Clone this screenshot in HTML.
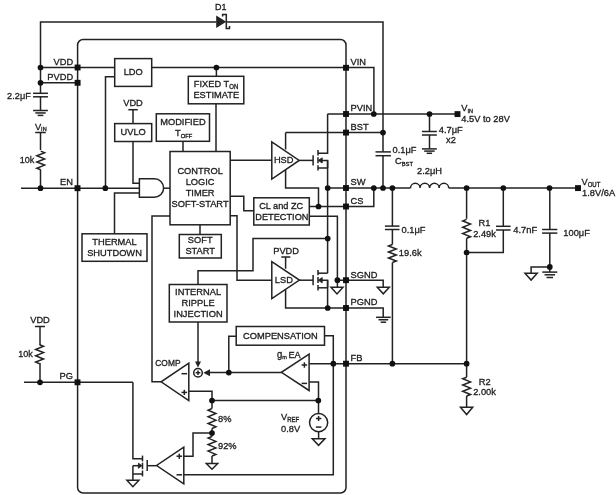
<!DOCTYPE html>
<html><head><meta charset="utf-8"><style>
html,body{margin:0;padding:0;background:#fff;width:616px;height:495px;overflow:hidden}
svg{display:block;filter:grayscale(1)}
text{font-family:"Liberation Sans",sans-serif;fill:#1c1c1c;stroke:#1c1c1c;stroke-width:0.3}
</style></head><body>
<svg width="616" height="495" viewBox="0 0 616 495">
<rect width="616" height="495" fill="#fff"/>
<g fill="none" stroke="#222" stroke-width="1.5" stroke-linejoin="miter" stroke-linecap="butt">
<path d="M40.5,67.5 L40.5,22 L216.3,22"/>
<path d="M226.3,22 L383,22 L383,151.9"/>
<path d="M216.2,15.6 L216.2,27.9 L226.3,21.8Z" fill="#222" stroke="none"/>
<path d="M222.6,16.5 L222.6,14.6 L226.3,14.6 L226.3,28.4 L229.5,28.4 L229.5,26"/>
<rect x="77.6" y="39.5" width="268.4" height="453.5" rx="5.5"/>
<path d="M40.5,67.5 L114.7,67.5"/>
<path d="M151.7,67.6 L373.9,67.6 L373.9,114"/>
<path d="M216.4,67.5 L216.4,76.3"/>
<path d="M40.5,82.8 L77.5,82.8"/>
<path d="M40.5,67.5 L40.5,93.3"/>
<path d="M33.05,93.3 L47.95,93.3"/>
<path d="M33.05,96.8 L47.95,96.8"/>
<path d="M40.5,96.8 L40.5,110.5"/>
<path d="M33.1,110.5 L47.9,110.5"/>
<path d="M35.3,112.95 L45.7,112.95"/>
<path d="M37.65,115.4 L43.35,115.4"/>
<path d="M35.2,132.5 L45.8,132.5"/>
<path d="M40.5,132.5 L40.5,150"/>
<path d="M40.7,151.1 L44.6,152.66 L36.800000000000004,155.78 L44.6,158.89 L36.800000000000004,162.01 L44.6,165.12 L36.800000000000004,168.24 L40.7,169.8"/>
<path d="M40.5,169.5 L40.5,188.2"/>
<path d="M21,188.2 L139.4,188.2"/>
<rect x="114.7" y="58.6" width="36.999999999999986" height="27.800000000000004"/>
<path d="M114.7,76.7 L105.5,76.7 L105.5,188.2"/>
<path d="M128.3,109.7 L137.8,109.7"/>
<path d="M133,109.7 L133,123.6"/>
<rect x="114.7" y="123.6" width="36.999999999999986" height="17.900000000000006"/>
<path d="M133,141.5 L133,183.2 L139.4,183.2"/>
<path d="M139.4,178.8 L154.5,178.8 A9.1,9.25 0 0 1 154.5,197.3 L139.4,197.3Z"/>
<path d="M163.6,188.2 L170,188.2"/>
<path d="M139.4,193.1 L114.5,193.1 L114.5,233.8"/>
<rect x="82" y="233.8" width="65" height="27.5"/>
<path d="M170,216.1 L152,216.1 L152,381.8 L161.1,381.8"/>
<rect x="156.3" y="113.8" width="53.19999999999999" height="27.500000000000014"/>
<path d="M183,141.3 L183,151.5"/>
<rect x="188.3" y="76.3" width="55.5" height="27.5"/>
<path d="M216,103.8 L216,151.5"/>
<rect x="170" y="151.5" width="60.19999999999999" height="73.30000000000001"/>
<path d="M230.2,160.3 L271.8,160.3"/>
<path d="M271.8,141.8 L271.8,179 L299.2,160.4Z"/>
<path d="M230.2,196.3 L243.8,196.3 L243.8,210.8 L253.8,210.8"/>
<rect x="253.8" y="197.8" width="55.5" height="27.19999999999999"/>
<path d="M230.2,215.7 L237,215.7 L237,280.2 L271.8,280.2"/>
<rect x="179.3" y="234.5" width="42.0" height="23.5"/>
<path d="M200,224.8 L200,234.5"/>
<path d="M327.7,238.6 L253,238.6 L253,270.8 L198,270.8 L198,284.5"/>
<rect x="169.3" y="284.5" width="57.69999999999999" height="37.5"/>
<path d="M198,322 L198,363"/>
<path d="M195,361.6 L201,361.6 L198,367.6Z" fill="#222" stroke="none"/>
<circle cx="198" cy="372.7" r="4.3"/>
<path d="M195.7,372.7 L200.3,372.7"/>
<path d="M198,370.4 L198,375"/>
<path d="M281.7,372.6 L207,372.6"/>
<path d="M210,369.2 L210,376.2 L203.3,372.7Z" fill="#222" stroke="none"/>
<path d="M228.8,372.6 L228.8,336.2 L236.2,336.2"/>
<rect x="236.2" y="326.5" width="88.30000000000001" height="18.69999999999999"/>
<path d="M324.5,335.8 L333.3,335.8 L333.3,474.8 L184,474.8"/>
<path d="M188.8,363.1 L188.8,400.5 L161.1,381.8Z"/>
<path d="M181.5,373.7 L187.1,373.7"/>
<path d="M181.5,392.4 L187.1,392.4"/>
<path d="M184.3,389.8 L184.3,395"/>
<path d="M176.5,456.2 L182.1,456.2"/>
<path d="M179.3,453.6 L179.3,458.9"/>
<path d="M176.5,474.8 L182.1,474.8"/>
<path d="M301.6,365 L307.1,365"/>
<path d="M304.4,362.3 L304.4,367.7"/>
<path d="M301.6,383.4 L307.1,383.4"/>
<path d="M188.8,391.2 L212,391.2 L212,400.5"/>
<path d="M212,400.5 L318.3,400.5"/>
<path d="M212,400.5 L212,408.5"/>
<path d="M212,408.5 L208.1,410.17 L215.9,413.5 L208.1,416.83 L215.9,420.17 L208.1,423.5 L215.9,426.83 L212,428.5"/>
<path d="M212,428.5 L212,436.5"/>
<path d="M212,436.5 L208.1,438.12 L215.9,441.38 L208.1,444.62 L215.9,447.88 L208.1,451.12 L215.9,454.38 L212,456"/>
<path d="M212,456 L212,463.5"/>
<path d="M206.3,463.5 L217.7,463.5 L212,469.3Z"/>
<path d="M212,433 L193,433 L193,456.2 L183.8,456.2"/>
<path d="M183.8,447.1 L183.8,483.9 L156.6,465.5Z"/>
<path d="M156.3,465.7 L147.2,465.7"/>
<path d="M147.2,460.1 L147.2,470.9"/>
<path d="M142.5,455.6 L142.5,461.4"/>
<path d="M142.5,462.7 L142.5,469.2"/>
<path d="M142.5,470.5 L142.5,476.4"/>
<path d="M132.9,382.3 L132.9,458.8 L142.5,458.8"/>
<path d="M132.9,474 L142.5,474"/>
<path d="M132.9,465.7 L139.5,465.7"/>
<path d="M132.9,465.7 L132.9,480.2"/>
<path d="M138.4,463.2 L138.4,468.2 L142,465.7Z" fill="#222" stroke-width="0.9"/>
<path d="M126.9,480.2 L138.9,480.2 L132.9,486.7Z"/>
<path d="M309.1,354.1 L309.1,390.5 L281.4,372.3Z"/>
<path d="M309.3,363.7 L466.5,363.7"/>
<path d="M309.3,382 L318.5,382 L318.5,413.5"/>
<circle cx="318.6" cy="422.6" r="9.1"/>
<path d="M318.6,431.7 L318.6,438.7"/>
<path d="M312.3,438.7 L324.90000000000003,438.7 L318.6,445.3Z"/>
<path d="M315.9,418.5 L321.4,418.5"/>
<path d="M318.6,415.9 L318.6,421"/>
<path d="M315.9,427.1 L321.4,427.1"/>
<path d="M24,382.3 L132.9,382.3"/>
<path d="M35,326.5 L45,326.5"/>
<path d="M40,326.5 L40,345"/>
<path d="M39.6,344.7 L43.5,346.28 L35.7,349.45 L43.5,352.62 L35.7,355.78 L43.5,358.95 L35.7,362.12 L39.6,363.7"/>
<path d="M40,363 L40,382.3"/>
<path d="M327.5,114 L457,114"/>
<path d="M327.6,114 L327.6,153.3 L318,153.3"/>
<path d="M285.6,132.6 L383,132.6"/>
<path d="M285.6,132.6 L285.6,149.5"/>
<path d="M299.2,160.4 L313.1,160.4"/>
<path d="M313.1,155.20000000000002 L313.1,165.5"/>
<path d="M318,150.1 L318,155.4"/>
<path d="M318,157.20000000000002 L318,163.20000000000002"/>
<path d="M318,165.3 L318,170.6"/>
<path d="M318,168.0 L327.6,168.0"/>
<path d="M320.5,160.4 L327.6,160.4 L327.6,168.0"/>
<path d="M318.3,160.4 L322.2,157.8 L322.2,163.0Z" fill="#222" stroke-width="0.9"/>
<path d="M327.6,160.4 L327.6,273.2"/>
<path d="M318,273.2 L327.6,273.2"/>
<path d="M299.2,280.2 L313.1,280.2"/>
<path d="M313.1,275.0 L313.1,285.3"/>
<path d="M318,269.9 L318,275.2"/>
<path d="M318,277.0 L318,283.0"/>
<path d="M318,285.09999999999997 L318,290.4"/>
<path d="M318,287.8 L327.6,287.8"/>
<path d="M320.5,280.2 L327.6,280.2 L327.6,287.8"/>
<path d="M318.3,280.2 L322.2,277.59999999999997 L322.2,282.8Z" fill="#222" stroke-width="0.9"/>
<path d="M327.6,280.2 L327.6,308"/>
<path d="M271.8,261.6 L271.8,298.6 L299.4,280.1Z"/>
<path d="M285.6,170 L285.6,188 L318.5,188 L318.5,206.5"/>
<path d="M327.7,188 L410.5,188"/>
<path d="M410.5,188 A4.774999999999999,4.7 0 0 1 420.05,188 A4.774999999999999,4.7 0 0 1 429.6,188 A4.774999999999999,4.7 0 0 1 439.15000000000003,188 A4.774999999999999,4.7 0 0 1 448.7,188 "/>
<path d="M448.7,188 L578,188"/>
<path d="M309.3,206.5 L373.8,206.5 L373.8,188"/>
<path d="M375.5,151.9 L390.9,151.9"/>
<path d="M375.5,155.7 L390.9,155.7"/>
<path d="M383,155.7 L383,188"/>
<path d="M392.4,188 L392.4,226.3"/>
<path d="M384.9,226.1 L399.5,226.1"/>
<path d="M384.9,229.5 L399.5,229.5"/>
<path d="M392.4,229.5 L392.4,244.5"/>
<path d="M392.4,244.5 L388.5,246.0 L396.29999999999995,249.0 L388.5,252.0 L396.29999999999995,255.0 L388.5,258.0 L396.29999999999995,261.0 L392.4,262.5"/>
<path d="M392.4,262.5 L392.4,363.7"/>
<path d="M429.5,114 L429.5,131.5"/>
<path d="M421.95,131.5 L436.84999999999997,131.5"/>
<path d="M421.95,135 L436.84999999999997,135"/>
<path d="M429.5,135 L429.5,148.9"/>
<path d="M421.95,148.9 L436.84999999999997,148.9"/>
<path d="M424.15,151.1 L434.65,151.1"/>
<path d="M426.7,153.3 L432.09999999999997,153.3"/>
<path d="M309.3,216.3 L337.4,216.3 L337.4,287.3"/>
<path d="M331.0,287.3 L343.0,287.3 L337,293.90000000000003Z"/>
<path d="M337.4,280.2 L383.2,280.2 L383.2,287.3"/>
<path d="M377.3,287.3 L389.3,287.3 L383.3,293.8Z"/>
<path d="M285.6,289.5 L285.6,308 L383.2,308 L383.2,317.3"/>
<path d="M376.09999999999997,317.3 L390.7,317.3"/>
<path d="M378.54999999999995,319.74 L388.25,319.74"/>
<path d="M380.65,322.18 L386.15,322.18"/>
<path d="M281.3,257 L290.3,257"/>
<path d="M285.6,257 L285.6,268.8"/>
<path d="M466.6,188 L466.6,218.8"/>
<path d="M466.6,219.4 L462.70000000000005,220.97 L470.5,224.12 L462.70000000000005,227.28 L470.5,230.43 L462.70000000000005,233.58 L470.5,236.73 L466.6,238.3"/>
<path d="M466.6,238.3 L466.6,377.2"/>
<path d="M466.6,377.2 L462.70000000000005,378.77 L470.5,381.9 L462.70000000000005,385.03 L470.5,388.17 L462.70000000000005,391.3 L470.5,394.43 L466.6,396"/>
<path d="M466.6,396 L466.6,407.3"/>
<path d="M460.5,407.3 L472.70000000000005,407.3 L466.6,414.6Z"/>
<path d="M466.6,252.5 L503.3,252.5 L503.3,230"/>
<path d="M496.0,226.3 L510.6,226.3"/>
<path d="M496.0,230 L510.6,230"/>
<path d="M503.3,226.3 L503.3,188"/>
<path d="M549.8,188 L549.8,229.5"/>
<path d="M542.1,229.5 L557.3000000000001,229.5"/>
<path d="M542.1,233.1 L557.3000000000001,233.1"/>
<path d="M549.8,233.1 L549.8,272.1"/>
<path d="M542.3,272.1 L557.3,272.1"/>
<path d="M544.55,274.8 L555.05,274.8"/>
<path d="M546.55,277.5 L553.05,277.5"/>
<path d="M549.8,266.9 L531.1,266.9 L531.1,273.2"/>
<path d="M525.0,273.2 L537.2,273.2 L531.1,280.09999999999997Z"/>
<circle cx="40.5" cy="67.5" r="2.85" fill="#111" stroke="none"/>
<circle cx="40.5" cy="82.8" r="2.85" fill="#111" stroke="none"/>
<circle cx="40.5" cy="188.2" r="2.85" fill="#111" stroke="none"/>
<circle cx="105.3" cy="188.2" r="2.85" fill="#111" stroke="none"/>
<circle cx="216.4" cy="67.5" r="2.85" fill="#111" stroke="none"/>
<circle cx="373.8" cy="114" r="2.85" fill="#111" stroke="none"/>
<circle cx="429.5" cy="114" r="2.85" fill="#111" stroke="none"/>
<circle cx="383" cy="132.6" r="2.85" fill="#111" stroke="none"/>
<circle cx="327.7" cy="188" r="2.85" fill="#111" stroke="none"/>
<circle cx="373.8" cy="188" r="2.85" fill="#111" stroke="none"/>
<circle cx="383" cy="188" r="2.85" fill="#111" stroke="none"/>
<circle cx="392.4" cy="188" r="2.85" fill="#111" stroke="none"/>
<circle cx="466.6" cy="188" r="2.85" fill="#111" stroke="none"/>
<circle cx="503.3" cy="188" r="2.85" fill="#111" stroke="none"/>
<circle cx="549.5" cy="188" r="2.85" fill="#111" stroke="none"/>
<circle cx="318.5" cy="206.5" r="2.85" fill="#111" stroke="none"/>
<circle cx="327.7" cy="238.6" r="2.85" fill="#111" stroke="none"/>
<circle cx="337.4" cy="280.2" r="2.85" fill="#111" stroke="none"/>
<circle cx="327.7" cy="308" r="2.85" fill="#111" stroke="none"/>
<circle cx="333.3" cy="363.7" r="2.85" fill="#111" stroke="none"/>
<circle cx="392.4" cy="363.7" r="2.85" fill="#111" stroke="none"/>
<circle cx="466.6" cy="363.7" r="2.85" fill="#111" stroke="none"/>
<circle cx="466.6" cy="252.5" r="2.85" fill="#111" stroke="none"/>
<circle cx="549.8" cy="266.9" r="2.85" fill="#111" stroke="none"/>
<circle cx="228.8" cy="372.6" r="2.85" fill="#111" stroke="none"/>
<circle cx="212" cy="400.5" r="2.85" fill="#111" stroke="none"/>
<circle cx="318.3" cy="400.5" r="2.85" fill="#111" stroke="none"/>
<circle cx="212" cy="433" r="2.85" fill="#111" stroke="none"/>
<circle cx="40" cy="382.3" r="2.85" fill="#111" stroke="none"/>
<rect x="74.64999999999999" y="64.55" width="5.9" height="5.9" fill="#111" stroke="none"/>
<rect x="74.64999999999999" y="79.85" width="5.9" height="5.9" fill="#111" stroke="none"/>
<rect x="74.55" y="185.25" width="5.9" height="5.9" fill="#111" stroke="none"/>
<rect x="74.55" y="379.35" width="5.9" height="5.9" fill="#111" stroke="none"/>
<rect x="343.05" y="64.85" width="5.9" height="5.9" fill="#111" stroke="none"/>
<rect x="343.05" y="111.05" width="5.9" height="5.9" fill="#111" stroke="none"/>
<rect x="343.05" y="129.65" width="5.9" height="5.9" fill="#111" stroke="none"/>
<rect x="343.05" y="185.05" width="5.9" height="5.9" fill="#111" stroke="none"/>
<rect x="343.05" y="203.55" width="5.9" height="5.9" fill="#111" stroke="none"/>
<rect x="343.05" y="277.25" width="5.9" height="5.9" fill="#111" stroke="none"/>
<rect x="343.05" y="305.05" width="5.9" height="5.9" fill="#111" stroke="none"/>
<rect x="343.05" y="360.75" width="5.9" height="5.9" fill="#111" stroke="none"/>
<rect x="454.55" y="111.14999999999999" width="5.9" height="5.9" fill="#111" stroke="none"/>
<rect x="575.05" y="185.15" width="5.9" height="5.9" fill="#111" stroke="none"/>
</g>
<g>
<text transform="matrix(1,0,0,1.07,220.8,9.7)" text-anchor="middle" font-size="9" >D1</text>
<text transform="matrix(1,0,0,1.07,73.2,64.8)" text-anchor="end" font-size="9.3" >VDD</text>
<text transform="matrix(1,0,0,1.07,73.2,79.8)" text-anchor="end" font-size="9.3" >PVDD</text>
<text transform="matrix(1,0,0,1.07,30.8,98.8)" text-anchor="end" font-size="9.2" >2.2μF</text>
<text transform="matrix(1,0,0,1.07,34.9,129.7)" text-anchor="start" font-size="9.3">V<tspan font-size="5.5" dy="1.5">IN</tspan></text>
<text transform="matrix(1,0,0,1.07,34.2,163)" text-anchor="end" font-size="9" >10k</text>
<text transform="matrix(1,0,0,1.07,73,185)" text-anchor="end" font-size="9.3" >EN</text>
<text transform="matrix(1,0,0,1.07,114.5,76.5)" text-anchor="middle" font-size="9.3" ></text>
<text transform="matrix(1,0,0,1.07,133.2,74.9)" text-anchor="middle" font-size="9.3" >LDO</text>
<text transform="matrix(1,0,0,1.07,133,105.6)" text-anchor="middle" font-size="9.3" >VDD</text>
<text transform="matrix(1,0,0,1.07,133.2,135.1)" text-anchor="middle" font-size="9.3" >UVLO</text>
<text transform="matrix(1,0,0,1.07,182.9,124.6)" text-anchor="middle" font-size="9.3" >MODIFIED</text>
<text transform="matrix(1,0,0,1.07,175,136.4)" text-anchor="start" font-size="9.3">T<tspan font-size="5.8" dy="1.5">OFF</tspan></text>
<text transform="matrix(1,0,0,1.07,193.8,87.3)" text-anchor="start" font-size="9.3">FIXED T<tspan font-size="6" dy="1.5">ON</tspan></text>
<text transform="matrix(1,0,0,1.07,216.3,98.2)" text-anchor="middle" font-size="9.3" >ESTIMATE</text>
<text transform="matrix(1,0,0,1.07,200.1,174.1)" text-anchor="middle" font-size="9.3" >CONTROL</text>
<text transform="matrix(1,0,0,1.07,200.1,185.17)" text-anchor="middle" font-size="9.3" >LOGIC</text>
<text transform="matrix(1,0,0,1.07,200.1,196.24)" text-anchor="middle" font-size="9.3" >TIMER</text>
<text transform="matrix(1,0,0,1.07,200.1,207.31)" text-anchor="middle" font-size="9.3" >SOFT-START</text>
<text transform="matrix(1,0,0,1.07,114.5,244.9)" text-anchor="middle" font-size="9.3" >THERMAL</text>
<text transform="matrix(1,0,0,1.07,114.5,256.1)" text-anchor="middle" font-size="9.3" >SHUTDOWN</text>
<text transform="matrix(1,0,0,1.07,200.2,243.4)" text-anchor="middle" font-size="9.3" >SOFT</text>
<text transform="matrix(1,0,0,1.07,200.2,254.4)" text-anchor="middle" font-size="9.3" >START</text>
<text transform="matrix(1,0,0,1.07,198.1,294.9)" text-anchor="middle" font-size="9.3" >INTERNAL</text>
<text transform="matrix(1,0,0,1.07,198.1,305.9)" text-anchor="middle" font-size="9.3" >RIPPLE</text>
<text transform="matrix(1,0,0,1.07,198.1,316.8)" text-anchor="middle" font-size="9.3" >INJECTION</text>
<text transform="matrix(1,0,0,1.07,281.2,208.8)" text-anchor="middle" font-size="9.2" >CL and ZC</text>
<text transform="matrix(1,0,0,1.07,281.9,219.6)" text-anchor="middle" font-size="9.2" >DETECTION</text>
<text transform="matrix(1,0,0,1.07,283.7,163.2)" text-anchor="middle" font-size="9.3" >HSD</text>
<text transform="matrix(1,0,0,1.07,283.9,283.3)" text-anchor="middle" font-size="9.3" >LSD</text>
<text transform="matrix(1,0,0,1.07,286.1,254.3)" text-anchor="middle" font-size="9.3" >PVDD</text>
<text transform="matrix(1,0,0,1.07,280.4,338.7)" text-anchor="middle" font-size="9.3" >COMPENSATION</text>
<text transform="matrix(1,0,0,1.07,167.9,366.2)" text-anchor="middle" font-size="8.4" >COMP</text>
<text transform="matrix(1,0,0,1.07,277,358.2)" font-size="9.5">g<tspan font-size="5.5" dy="1">m</tspan></text>
<text transform="matrix(1,0,0,1.07,288.4,357.5)" text-anchor="start" font-size="9.2" >EA</text>
<text transform="matrix(1,0,0,1.07,281,420)" text-anchor="start" font-size="9.3">V<tspan font-size="6" dy="1.5">REF</tspan></text>
<text transform="matrix(1,0,0,1.07,281,431.8)" text-anchor="start" font-size="9.3" >0.8V</text>
<text transform="matrix(1,0,0,1.07,218,421.7)" text-anchor="start" font-size="9.3" >8%</text>
<text transform="matrix(1,0,0,1.07,218,449.2)" text-anchor="start" font-size="9.3" >92%</text>
<text transform="matrix(1,0,0,1.07,350.5,64.5)" text-anchor="start" font-size="9.3" >VIN</text>
<text transform="matrix(1,0,0,1.07,350.5,111)" text-anchor="start" font-size="9.3" >PVIN</text>
<text transform="matrix(1,0,0,1.07,350.5,129.8)" text-anchor="start" font-size="9.3" >BST</text>
<text transform="matrix(1,0,0,1.07,350.5,185.2)" text-anchor="start" font-size="9.3" >SW</text>
<text transform="matrix(1,0,0,1.07,350.5,203.8)" text-anchor="start" font-size="9.3" >CS</text>
<text transform="matrix(1,0,0,1.07,350.5,277.5)" text-anchor="start" font-size="9.3" >SGND</text>
<text transform="matrix(1,0,0,1.07,350.5,305.3)" text-anchor="start" font-size="9.3" >PGND</text>
<text transform="matrix(1,0,0,1.07,350.5,361.2)" text-anchor="start" font-size="9.3" >FB</text>
<text transform="matrix(1,0,0,1.07,40,323)" text-anchor="middle" font-size="9.3" >VDD</text>
<text transform="matrix(1,0,0,1.07,32.7,357.2)" text-anchor="end" font-size="9" >10k</text>
<text transform="matrix(1,0,0,1.07,73,378.8)" text-anchor="end" font-size="9.3" >PG</text>
<text transform="matrix(1,0,0,1.07,392.5,153.3)" text-anchor="start" font-size="9.3" >0.1μF</text>
<text transform="matrix(1,0,0,1.07,395,164.1)" text-anchor="start" font-size="9.3">C<tspan font-size="5.8" dy="1.5">BST</tspan></text>
<text transform="matrix(1,0,0,1.07,417,174.1)" text-anchor="start" font-size="9.3" >2.2μH</text>
<text transform="matrix(1,0,0,1.07,401.5,232.6)" text-anchor="start" font-size="9.3" >0.1μF</text>
<text transform="matrix(1,0,0,1.07,398.8,256.3)" text-anchor="start" font-size="9.3" >19.6k</text>
<text transform="matrix(1,0,0,1.07,461.3,110.9)" text-anchor="start" font-size="9.3">V<tspan font-size="5.5" dy="1.5">IN</tspan></text>
<text transform="matrix(1,0,0,1.07,461.3,122)" text-anchor="start" font-size="9.3" >4.5V to 28V</text>
<text transform="matrix(1,0,0,1.07,438.8,132.5)" text-anchor="start" font-size="9.3" >4.7μF</text>
<text transform="matrix(1,0,0,1.07,446,143.3)" text-anchor="start" font-size="9.3" >x2</text>
<text transform="matrix(1,0,0,1.07,484.5,225.9)" text-anchor="middle" font-size="9.3" >R1</text>
<text transform="matrix(1,0,0,1.07,473.2,237.1)" text-anchor="start" font-size="9.3" >2.49k</text>
<text transform="matrix(1,0,0,1.07,513.3,232.8)" text-anchor="start" font-size="9.3" >4.7nF</text>
<text transform="matrix(1,0,0,1.07,563.3,235.8)" text-anchor="start" font-size="9.3" >100μF</text>
<text transform="matrix(1,0,0,1.07,581.5,185.1)" text-anchor="start" font-size="9.3">V<tspan font-size="6" dy="1.5">OUT</tspan></text>
<text transform="matrix(1,0,0,1.07,582.1,195.6)" text-anchor="start" font-size="9.3" >1.8V/6A</text>
<text transform="matrix(1,0,0,1.07,478.7,384.6)" text-anchor="start" font-size="9.3" >R2</text>
<text transform="matrix(1,0,0,1.07,473.2,395.3)" text-anchor="start" font-size="9.3" >2.00k</text>
</g>
</svg>
</body></html>
